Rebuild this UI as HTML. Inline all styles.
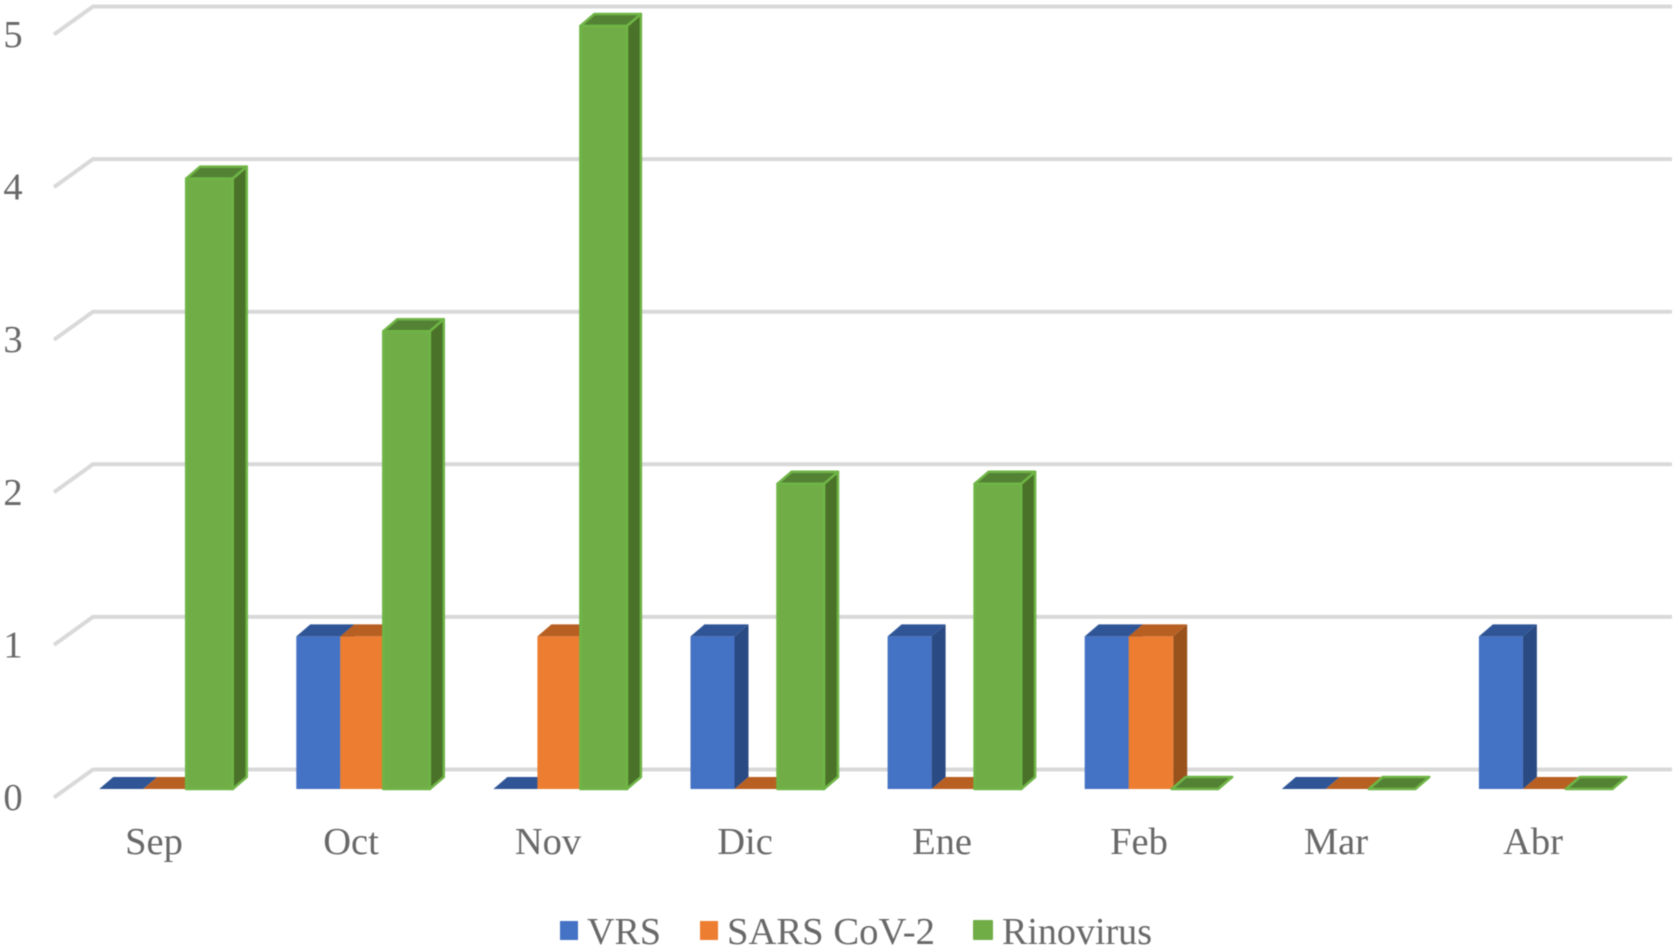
<!DOCTYPE html>
<html lang="es">
<head>
<meta charset="utf-8">
<title>Chart</title>
<style>
html,body{margin:0;padding:0;background:#fff;width:1675px;height:948px;overflow:hidden}
svg{display:block;filter:blur(0.4px)}
text{font-family:"Liberation Serif",serif;fill:#686868;font-size:38.5px}
</style>
</head>
<body>
<svg id="chart" width="1675" height="948" viewBox="0 0 1675 948" xmlns="http://www.w3.org/2000/svg">
  <g id="grid"></g>
  <g id="yticks"></g>
  <g id="bars"></g>
  <g id="xticks"></g>
  <g>
    <g>
      <rect x="560" y="921" width="18" height="19" fill="#4472c4"></rect>
      <text x="587" y="944" textLength="74" lengthAdjust="spacingAndGlyphs">VRS</text>
    </g>
    <g>
      <rect x="700" y="921" width="18" height="19" fill="#ed7d31"></rect>
      <text x="727" y="944" textLength="208" lengthAdjust="spacingAndGlyphs">SARS CoV-2</text>
    </g>
    <g>
      <rect x="973" y="920" width="20" height="20" rx="1" fill="#70ad47"></rect>
      <text x="1002" y="944" textLength="150" lengthAdjust="spacingAndGlyphs">Rinovirus</text>
    </g>
  </g>
</svg>
<script>
const categories = ["Sep", "Oct", "Nov", "Dic", "Ene", "Feb", "Mar", "Abr"];
const vrsValues = [0, 1, 0, 1, 1, 1, 0, 1];
const sarsValues = [0, 1, 1, 0, 0, 1, 0, 0];
const rinovirusValues = [4, 3, 5, 2, 2, 0, 0, 0];
const yTickLabels = [0, 1, 2, 3, 4, 5];

const NS = "http://www.w3.org/2000/svg";
const DX = 14, DY = 12;
function yScale(v) { return 789 - 152.6 * v; }
function xScale(i) { return 99.2 + 197.1 * i; }

function make(tag, attrs, parent) {
  const el = document.createElementNS(NS, tag);
  for (const k in attrs) el.setAttribute(k, attrs[k]);
  parent.appendChild(el);
  return el;
}

const grid = document.getElementById("grid");
const yticks = document.getElementById("yticks");
yTickLabels.forEach(function (t) {
  const fy = yScale(t) + 8.5;
  const line = make("polyline", {
    points: "54," + fy + " 93," + (fy - 28) + " 1672," + (fy - 28),
    fill: "none", stroke: "#d9d9d9", "stroke-width": 4
  }, grid);
  
  
  const label = make("text", { x: 13, y: yScale(t) + 21, "text-anchor": "middle" }, yticks);
  
  
  label.textContent = t;
});

const xticks = document.getElementById("xticks");
categories.forEach(function (c, i) {
  const label = make("text", { x: 154 + 197 * i, y: 854, "text-anchor": "middle" }, xticks);
  
  
  label.textContent = c;
});

const seriesList = [
  { key: "vrs", values: vrsValues, offset: 0, width: 44, front: "#4472c4", side: "#2a4a84", top: "#2f5597", stroke: "none" },
  { key: "sars", values: sarsValues, offset: 44, width: 44.5, front: "#ed7d31", side: "#9a521c", top: "#b85f22", stroke: "none" },
  { key: "rinovirus", values: rinovirusValues, offset: 87, width: 46.5, front: "#70ad47", side: "#4a7229", top: "#548235", stroke: "#6fb546" }
];

const barsGroup = document.getElementById("bars");
categories.forEach(function (c, i) {
  seriesList.forEach(function (s) {
    const x0 = xScale(i) + s.offset, x1 = x0 + s.width;
    const yTop = yScale(s.values[i]), yBase = yScale(0);
    const g = make("g", {}, barsGroup);
    
    
    const sw = s.stroke === "none" ? 0 : 2.5;
    const st = { stroke: s.stroke, "stroke-width": sw, "stroke-linejoin": "round" };
    const h = yBase - yTop;
    if (h > 0) {
      make("polygon", Object.assign({
        points: x1 + "," + yTop + " " + (x1 + DX) + "," + (yTop - DY) + " " + (x1 + DX) + "," + (yBase - DY) + " " + x1 + "," + yBase,
        fill: s.side
      }, st), g);
    }
    make("polygon", Object.assign({
      points: x0 + "," + yTop + " " + (x0 + DX) + "," + (yTop - DY) + " " + (x1 + DX) + "," + (yTop - DY) + " " + x1 + "," + yTop,
      fill: s.top
    }, st), g);
    if (h > 0) {
      make("rect", Object.assign({ x: x0, y: yTop, width: s.width, height: h, fill: s.front }, st), g);
    }
  });
});
</script>
</body>
</html>
